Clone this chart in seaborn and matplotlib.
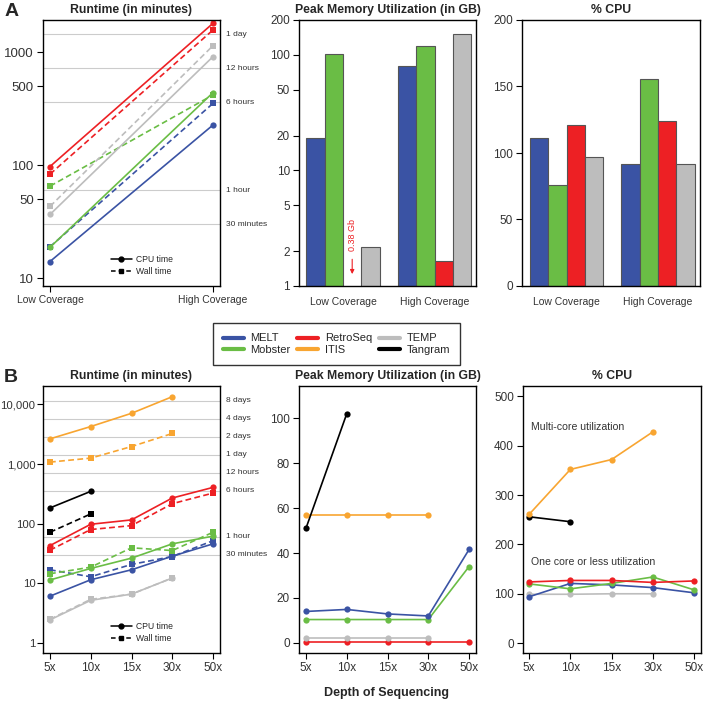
import numpy as np
import pandas as pd
import matplotlib
matplotlib.use('Agg')
import matplotlib.pyplot as plt
from matplotlib.lines import Line2D
from matplotlib.ticker import FixedLocator, NullLocator
import seaborn as sns

sns.set_style('ticks')
plt.rcParams['font.family'] = ['Liberation Sans', 'DejaVu Sans']

# ---------------------------------------------------------------
# colours
# ---------------------------------------------------------------
tool_colors = {'MELT': '#3A53A4', 'Mobster': '#6ABD45', 'RetroSeq': '#ED2024',
               'ITIS': '#F8A531', 'TEMP': '#BDBDBD', 'Tangram': '#000000'}

# ---------------------------------------------------------------
# DATA - panel A (low / high coverage)
# ---------------------------------------------------------------
coverage = ['Low Coverage', 'High Coverage']
a_tools = ['MELT', 'Mobster', 'RetroSeq', 'TEMP']

# runtime in minutes
a_melt_cpu = [14, 226]
a_melt_wall = [18.9, 351]
a_mobster_cpu = [18.7, 437]
a_mobster_wall = [65, 417]
a_retroseq_cpu = [97, 1795]
a_retroseq_wall = [83, 1567]
a_temp_cpu = [36.5, 910]
a_temp_wall = [43, 1138]

# peak memory in GB
a_melt_mem = [19.1, 80]
a_mobster_mem = [101, 118]
a_retroseq_mem = [0.38, 1.66]
a_temp_mem = [2.16, 150]

# % CPU
a_melt_pct = [111, 92]
a_mobster_pct = [76, 156]
a_retroseq_pct = [121, 124]
a_temp_pct = [97, 92]

# ---------------------------------------------------------------
# DATA - panel B (depth of sequencing)
# ---------------------------------------------------------------
depth = ['5x', '10x', '15x', '30x', '50x']
b_tools = ['MELT', 'Mobster', 'RetroSeq', 'ITIS', 'TEMP', 'Tangram']
nan = np.nan

b_melt_cpu = [6.1, 11.5, 16.9, 28.6, 46]
b_melt_wall = [16.9, 12.9, 20.8, 28.2, 52]
b_mobster_cpu = [11.4, 17.8, 26.5, 46, 62]
b_mobster_wall = [14.5, 18.7, 39.5, 35.5, 72]
b_retroseq_cpu = [43, 98, 116, 270, 407]
b_retroseq_wall = [36, 80, 93, 217, 327]
b_itis_cpu = [2650, 4265, 7110, 13500, nan]
b_itis_wall = [1080, 1260, 1970, 3260, nan]
b_temp_cpu = [2.44, 5.2, 6.6, 12.3, nan]
b_temp_wall = [2.5, 5.4, 6.6, 12.3, nan]
b_tangram_cpu = [184, 349, nan, nan, nan]
b_tangram_wall = [72, 146, nan, nan, nan]

b_melt_mem = [14, 14.9, 12.9, 12, 41.6]
b_mobster_mem = [10.4, 10.4, 10.4, 10.4, 34]
b_retroseq_mem = [0.3, 0.3, 0.3, 0.3, 0.3]
b_itis_mem = [57, 57, 57, 57, nan]
b_temp_mem = [2.1, 2.1, 2.1, 2.1, nan]
b_tangram_mem = [51, 102, nan, nan, nan]

b_melt_pct = [94, 121, 118, 112.5, 102]
b_mobster_pct = [120, 110, 121, 134, 108]
b_retroseq_pct = [124, 127, 127, 123, 126]
b_itis_pct = [261, 352, 372, 428, nan]
b_temp_pct = [99, 99, 100, 100, nan]
b_tangram_pct = [256, 246, nan, nan, nan]

# time reference lines (minutes)
a_time_marks = [1440, 720, 360, 60, 30]
a_time_labels = ['1 day', '12 hours', '6 hours', '1 hour', '30 minutes']
b_time_marks = [11520, 5760, 2880, 1440, 720, 360, 60, 30]
b_time_labels = ['8 days', '4 days', '2 days', '1 day', '12 hours', '6 hours',
                 '1 hour', '30 minutes']


# ---------------------------------------------------------------
# build long tables
# ---------------------------------------------------------------
def long_table(cats, series):
    rows = []
    for tool, measure, vals in series:
        for i, v in enumerate(vals):
            rows.append({'pos': i, 'cat': cats[i], 'tool': tool,
                         'measure': measure, 'value': v})
    return pd.DataFrame(rows).dropna()


a_run = long_table(coverage, [
    ('MELT', 'CPU', a_melt_cpu), ('MELT', 'Wall', a_melt_wall),
    ('Mobster', 'CPU', a_mobster_cpu), ('Mobster', 'Wall', a_mobster_wall),
    ('TEMP', 'CPU', a_temp_cpu), ('TEMP', 'Wall', a_temp_wall),
    ('RetroSeq', 'CPU', a_retroseq_cpu), ('RetroSeq', 'Wall', a_retroseq_wall)])
a_mem = long_table(coverage, [('MELT', 'mem', a_melt_mem), ('Mobster', 'mem', a_mobster_mem),
                              ('RetroSeq', 'mem', a_retroseq_mem), ('TEMP', 'mem', a_temp_mem)])
a_pct = long_table(coverage, [('MELT', 'pct', a_melt_pct), ('Mobster', 'pct', a_mobster_pct),
                              ('RetroSeq', 'pct', a_retroseq_pct), ('TEMP', 'pct', a_temp_pct)])

b_run = long_table(depth, [
    ('TEMP', 'CPU', b_temp_cpu), ('TEMP', 'Wall', b_temp_wall),
    ('MELT', 'CPU', b_melt_cpu), ('MELT', 'Wall', b_melt_wall),
    ('Mobster', 'CPU', b_mobster_cpu), ('Mobster', 'Wall', b_mobster_wall),
    ('RetroSeq', 'CPU', b_retroseq_cpu), ('RetroSeq', 'Wall', b_retroseq_wall),
    ('Tangram', 'CPU', b_tangram_cpu), ('Tangram', 'Wall', b_tangram_wall),
    ('ITIS', 'CPU', b_itis_cpu), ('ITIS', 'Wall', b_itis_wall)])
b_mem = long_table(depth, [
    ('RetroSeq', 'mem', b_retroseq_mem), ('TEMP', 'mem', b_temp_mem),
    ('Mobster', 'mem', b_mobster_mem), ('MELT', 'mem', b_melt_mem),
    ('ITIS', 'mem', b_itis_mem), ('Tangram', 'mem', b_tangram_mem)])
b_pct = long_table(depth, [
    ('TEMP', 'pct', b_temp_pct), ('MELT', 'pct', b_melt_pct),
    ('Mobster', 'pct', b_mobster_pct), ('RetroSeq', 'pct', b_retroseq_pct),
    ('Tangram', 'pct', b_tangram_pct), ('ITIS', 'pct', b_itis_pct)])

# ---------------------------------------------------------------
# figure
# ---------------------------------------------------------------
W, H = 704, 701
fig = plt.figure(figsize=(W / 100, H / 100), dpi=100)


def add_ax(x0, x1, y0, y1):
    return fig.add_axes([x0 / W, 1 - y1 / H, (x1 - x0) / W, (y1 - y0) / H])


ax_a1 = add_ax(43, 220, 20, 286)
ax_a2 = add_ax(299, 476, 20, 286)
ax_a3 = add_ax(522, 700, 20, 286)
ax_b1 = add_ax(43, 220, 386, 653)
ax_b2 = add_ax(299, 476, 386, 653)
ax_b3 = add_ax(523, 701, 386, 653)

line_kw = dict(linewidth=1.2, markersize=4.5, markeredgewidth=0)
TXT = '#333333'


def style_ax(ax, title, xsize=8.5, ysize=8.5):
    ax.set_title(title, fontsize=8.8, fontweight='bold', pad=5)
    ax.set_xlabel('')
    ax.set_ylabel('')
    for s in ax.spines.values():
        s.set_linewidth(1.0)
        s.set_color('black')
    ax.tick_params(direction='out', length=4, width=0.8, pad=2.5,
                   labelcolor=TXT, color='black')
    ax.tick_params(axis='x', labelsize=xsize)
    ax.tick_params(axis='y', labelsize=ysize)
    ax.yaxis.set_minor_locator(NullLocator())


def runtime_panel(ax, df, ticks, ticklabels, cats, marks, mark_labels, ylim, xlim):
    ax.set_yscale('log')
    for m in marks:
        ax.axhline(m, color='#cccccc', lw=0.8, zorder=0)
    sns.lineplot(data=df, x='pos', y='value', hue='tool', style='measure',
                 palette=tool_colors, markers={'CPU': 'o', 'Wall': 's'},
                 dashes={'CPU': '', 'Wall': (3.5, 2)}, estimator=None,
                 legend=False, ax=ax, **line_kw)
    ax.set_ylim(*ylim)
    ax.set_xlim(*xlim)
    ax.yaxis.set_major_locator(FixedLocator(ticks))
    ax.set_yticklabels(ticklabels)
    ax.set_xticks(range(len(cats)))
    ax.set_xticklabels(cats)
    trans = ax.get_yaxis_transform()
    for m, lab in zip(marks, mark_labels):
        ax.text(1.035, m, lab, transform=trans, fontsize=6, va='center',
                ha='left', color=TXT, clip_on=False)
    handles = [Line2D([], [], color='black', lw=1.1, marker='o', markersize=3.5),
               Line2D([], [], color='black', lw=1.1, ls=(0, (3, 2)), marker='s', markersize=3)]
    ax.legend(handles, ['CPU time', 'Wall time'], loc='lower left',
              bbox_to_anchor=(0.34, 0.01), frameon=False, fontsize=6.2,
              handlelength=2.4, handletextpad=0.5, labelspacing=0.3)


# ---- A: runtime
runtime_panel(ax_a1, a_run, [10, 50, 100, 500, 1000], ['10', '50', '100', '500', '1000'],
              coverage, a_time_marks, a_time_labels, (8.5, 1920), (-0.043, 1.043))
style_ax(ax_a1, 'Runtime (in minutes)', xsize=7.5, ysize=9.5)

# ---- A: peak memory
bar_kw = dict(palette=tool_colors, hue_order=a_tools, edgecolor='#555555',
              linewidth=0.8, saturation=1, width=0.8, legend=False)
ax_a2.set_yscale('log')
sns.barplot(data=a_mem, x='cat', y='value', hue='tool', ax=ax_a2, **bar_kw)
ax_a2.set_ylim(1, 200)
ax_a2.set_xlim(-0.48, 1.45)
ax_a2.yaxis.set_major_locator(FixedLocator([1, 2, 5, 10, 20, 50, 100, 200]))
ax_a2.set_yticklabels(['1', '2', '5', '10', '20', '50', '100', '200'])
ax_a2.annotate('', xy=(0.1, 1.2), xytext=(0.1, 1.8),
               arrowprops=dict(arrowstyle='-|>', color='#ED2024', lw=0.8,
                               mutation_scale=6))
ax_a2.text(0.1, 2.75, '0.38 Gb', rotation=90, color='#ED2024', fontsize=6.5,
           ha='center', va='center')
style_ax(ax_a2, 'Peak Memory Utilization (in GB)', xsize=7.5)
ax_a2.tick_params(axis='x', length=0, pad=8)

# ---- A: % CPU
sns.barplot(data=a_pct, x='cat', y='value', hue='tool', ax=ax_a3, **bar_kw)
ax_a3.set_ylim(0, 200)
ax_a3.set_xlim(-0.49, 1.46)
ax_a3.set_yticks([0, 50, 100, 150, 200])
style_ax(ax_a3, '% CPU', xsize=7.5)
ax_a3.tick_params(axis='x', length=0, pad=8)

# ---- B: runtime
runtime_panel(ax_b1, b_run, [1, 10, 100, 1000, 10000],
              ['1', '10', '100', '1,000', '10,000'],
              depth, b_time_marks, b_time_labels, (0.68, 20400), (-0.17, 4.17))
style_ax(ax_b1, 'Runtime (in minutes)', ysize=8.2)
ax_b1.tick_params(axis='y', pad=1.5)

# ---- B: peak memory
sns.lineplot(data=b_mem, x='pos', y='value', hue='tool', palette=tool_colors,
             marker='o', estimator=None, legend=False, ax=ax_b2, **line_kw)
ax_b2.set_ylim(-4.5, 114.4)
ax_b2.set_xlim(-0.17, 4.17)
ax_b2.set_yticks([0, 20, 40, 60, 80, 100])
ax_b2.set_xticks(range(len(depth)))
ax_b2.set_xticklabels(depth)
style_ax(ax_b2, 'Peak Memory Utilization (in GB)')

# ---- B: % CPU
sns.lineplot(data=b_pct, x='pos', y='value', hue='tool', palette=tool_colors,
             marker='o', estimator=None, legend=False, ax=ax_b3, **line_kw)
ax_b3.set_ylim(-20, 521)
ax_b3.set_xlim(-0.15, 4.17)
ax_b3.set_yticks([0, 100, 200, 300, 400, 500])
ax_b3.set_xticks(range(len(depth)))
ax_b3.set_xticklabels(depth)
ax_b3.text(0.05, 437, 'Multi-core utilization', fontsize=7.6, color=TXT,
           ha='left', va='center')
ax_b3.text(0.05, 164, 'One core or less utilization', fontsize=7.6, color=TXT,
           ha='left', va='center')
style_ax(ax_b3, '% CPU')

# ---------------------------------------------------------------
# shared legend, labels
# ---------------------------------------------------------------
leg_tools = ['MELT', 'Mobster', 'RetroSeq', 'ITIS', 'TEMP', 'Tangram']
leg_handles = [Line2D([], [], color=tool_colors[t], lw=3) for t in leg_tools]
leg = fig.legend(leg_handles, leg_tools, ncol=3, loc='center',
                 bbox_to_anchor=(0.478, 1 - 344 / H), fontsize=8,
                 frameon=True, fancybox=False, edgecolor='black',
                 handlelength=1.9, columnspacing=0.6, labelspacing=0.1,
                 handletextpad=0.6, borderpad=0.9)
leg.get_frame().set_linewidth(1.0)

fig.text(387 / W, 1 - 693 / H, 'Depth of Sequencing', fontsize=9,
         fontweight='bold', ha='center', va='center')
fig.text(5 / W, 1 - 11 / H, 'A', fontsize=14, fontweight='bold', ha='left', va='center')
fig.text(4 / W, 1 - 378 / H, 'B', fontsize=14, fontweight='bold', ha='left', va='center')

fig.savefig('out.png', dpi=100)
